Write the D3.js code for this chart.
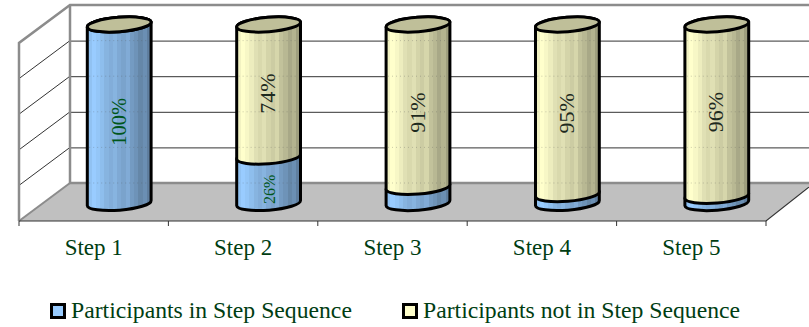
<!DOCTYPE html>
<html lang="en">

<head>
    <meta charset="UTF-8">
    <script src="https://d3js.org/d3.v7.min.js"></script>
    <title>Step Sequence</title>
    <style>
        html, body { margin: 0; padding: 0; background: #fff; }
        svg { display: block; }
        text { font-family: "Liberation Serif", serif; }
    </style>
</head>

<body>
    <svg id="chart" width="809" height="327"></svg>

    <script>
        // Values
        const steps = ["Step 1", "Step 2", "Step 3", "Step 4", "Step 5"];
        const inSequence = [100, 26, 9, 5, 4];
        const notInSequence = [0, 74, 91, 95, 96];
        const legendLabels = ["Participants in Step Sequence", "Participants not in Step Sequence"];
        const wallTicks = [0, 20, 40, 60, 80, 100];

        const svg = d3.select("svg#chart");

        // Chart box: front of the floor, back wall, and how far the depth shifts things
        const front = { left: 19, right: 766, bottom: 221 };
        const depth = { x: 51, y: -38 };
        const wallTop = 5;
        const textGreen = "#003d12";

        const xScale = d3.scaleBand().domain(steps).range([front.left, front.right]);
        const wallScale = d3.scaleLinear().domain([0, 100]).range([front.bottom + depth.y, wallTop]);
        const cylScale = d3.scaleLinear().domain([0, 100]).range([203, 24.5]);

        const rx = 32, ry = 7.2, tilt = -4.5;
        const tiltRad = tilt * Math.PI / 180;
        const backRight = 809;
        const lineW = 3;

        // Stepped shading across a cylinder
        const shades = [0.95, 1, 0.97, 0.93, 0.88, 0.85, 0.88, 0.83, 0.8, 0.84, 0.76, 0.72, 0.66, 0.7, 0.62];
        const defs = svg.append("defs");
        function addGradient(id, base) {
            const grad = defs.append("linearGradient").attr("id", id)
                .attr("x1", 0).attr("x2", 1).attr("y1", 0).attr("y2", 0);
            shades.forEach((s, i) => {
                const c = d3.rgb(base);
                const col = d3.rgb(c.r * s, c.g * s, c.b * s).formatHex();
                grad.append("stop").attr("offset", i / shades.length).attr("stop-color", col);
                grad.append("stop").attr("offset", (i + 1) / shades.length).attr("stop-color", col);
            });
        }
        addGradient("blueFill", "#99ccff");
        addGradient("yellowFill", "#ffffcc");

        // Floor
        const wallBottom = wallScale(0);
        svg.append("path")
            .attr("d", `M${front.left},${front.bottom} L${front.left + depth.x},${wallBottom} L${backRight},${wallBottom} L${backRight},${wallBottom + 3} L${front.right},${front.bottom} Z`)
            .attr("fill", "#c0c0c0");

        // Back wall gridlines
        svg.append("g")
            .attr("transform", `translate(${front.left + depth.x},0)`)
            .call(d3.axisRight(wallScale).tickValues(wallTicks.slice(1, -1)).tickSize(backRight - front.left - depth.x).tickFormat(""))
            .call(g => g.select(".domain").remove())
            .call(g => g.selectAll("line").attr("stroke", "#333").attr("stroke-width", 1));

        // Left wall gridlines
        svg.append("g").selectAll("line").data(wallTicks.slice(1, -1)).join("line")
            .attr("x1", front.left)
            .attr("x2", front.left + depth.x)
            .attr("y1", d => wallScale(d) - depth.y)
            .attr("y2", d => wallScale(d))
            .attr("stroke", "#333").attr("stroke-width", 1);

        // Wall outline
        svg.append("path")
            .attr("d", `M${front.left},${front.bottom} L${front.left},${wallTop - depth.y} L${front.left + depth.x},${wallTop} L${backRight},${wallTop}`)
            .attr("fill", "none").attr("stroke", "#8c8c8c").attr("stroke-width", 2.5);
        svg.append("path")
            .attr("d", `M${front.left + depth.x},${wallTop} L${front.left + depth.x},${wallBottom} L${backRight},${wallBottom}`)
            .attr("fill", "none").attr("stroke", "#8c8c8c").attr("stroke-width", 2.5);
        svg.append("path")
            .attr("d", `M${front.left},${front.bottom} L${front.left + depth.x},${wallBottom}`)
            .attr("fill", "none").attr("stroke", "#8c8c8c").attr("stroke-width", 2);

        // Front edge of the floor and the right side
        svg.append("path")
            .attr("d", `M${front.left},${front.bottom} L${front.right},${front.bottom} L${backRight},${wallBottom + 4}`)
            .attr("fill", "none").attr("stroke", "#333").attr("stroke-width", 1.2);

        // Ticks between the categories
        svg.append("g").selectAll("line").data(steps.concat("end")).join("line")
            .attr("x1", (d, i) => front.left + i * xScale.bandwidth())
            .attr("x2", (d, i) => front.left + i * xScale.bandwidth())
            .attr("y1", front.bottom)
            .attr("y2", front.bottom + 5)
            .attr("stroke", "#333").attr("stroke-width", 1);

        // Category labels
        svg.append("g")
            .attr("transform", `translate(0,${front.bottom})`)
            .call(d3.axisBottom(xScale).tickSize(0).tickPadding(18))
            .call(g => g.select(".domain").remove())
            .call(g => g.selectAll("text")
                .attr("font-family", "Liberation Serif")
                .attr("font-size", 23)
                .attr("fill", textGreen));

        // Cylinders
        function bodyPath(cx, y0, y1) {
            const dx = rx * Math.cos(tiltRad), dy = rx * Math.sin(tiltRad);
            return `M${cx - dx},${y0 - dy} A${rx},${ry} ${tilt} 0 0 ${cx + dx},${y0 + dy}` +
                ` L${cx + dx},${y1 + dy} A${rx},${ry} ${tilt} 0 0 ${cx - dx},${y1 - dy} Z`;
        }

        // Hand nudges for the yellow labels, they don't sit exactly mid segment
        const upperLabelNudge = [0, 3, 7, 4, 2];

        const cylinders = svg.append("g");
        steps.forEach((step, i) => {
            // Bars stand halfway into the floor depth
            const cx = xScale(step) + xScale.bandwidth() / 2 + depth.x / 2;
            const split = cylScale(inSequence[i]);
            const top = cylScale(inSequence[i] + notInSequence[i]);
            const g = cylinders.append("g");

            g.append("path").attr("d", bodyPath(cx, cylScale(0), split))
                .attr("fill", "url(#blueFill)").attr("stroke", "#000").attr("stroke-width", lineW);
            g.append("path").attr("d", bodyPath(cx, split, top))
                .attr("fill", "url(#yellowFill)").attr("stroke", "#000").attr("stroke-width", lineW);
            g.append("ellipse")
                .attr("transform", `translate(${cx},${top}) rotate(${tilt})`)
                .attr("rx", rx).attr("ry", ry)
                .attr("fill", "#bfbf99").attr("stroke", "#000").attr("stroke-width", lineW);

            // Gridlines faintly showing through
            g.selectAll("line").data(wallTicks.slice(0, -1)).join("line")
                .attr("x1", cx - rx + 2)
                .attr("x2", cx + rx - 2)
                .attr("y1", d => wallScale(d))
                .attr("y2", d => wallScale(d))
                .attr("stroke", "#555").attr("stroke-opacity", 0.3)
                .attr("stroke-dasharray", "1 3");

            // Value labels, only where the segment is tall enough
            const addLabel = (v, y0, y1, offset, size, fill) => {
                if (v < 10) return;
                g.append("text")
                    .attr("transform", `translate(${cx + 6.5},${(y0 + y1) / 2 + offset}) rotate(-90)`)
                    .attr("text-anchor", "middle")
                    .attr("font-size", size)
                    .attr("fill", fill)
                    .text(v + "%");
            };
            addLabel(inSequence[i], cylScale(0), split, inSequence[i] < 50 ? 9.5 : 8, inSequence[i] < 50 ? 16 : 20.5, "#00561b");
            addLabel(notInSequence[i], split, top, upperLabelNudge[i], 22, "#1e2a1e");
        });

        // Legend
        const legendX = [50, 402];
        const legendFills = ["#99ccff", "#ffffcc"];
        const legend = svg.append("g");
        legendLabels.forEach((label, i) => {
            legend.append("rect")
                .attr("x", legendX[i] + 1.5).attr("y", 304.5)
                .attr("width", 13).attr("height", 13)
                .attr("fill", legendFills[i]).attr("stroke", "#000").attr("stroke-width", 3);
            legend.append("text")
                .attr("x", legendX[i] + 21).attr("y", 318)
                .attr("font-size", 23.7)
                .attr("fill", textGreen)
                .text(label);
        });
    </script>
</body>

</html>
